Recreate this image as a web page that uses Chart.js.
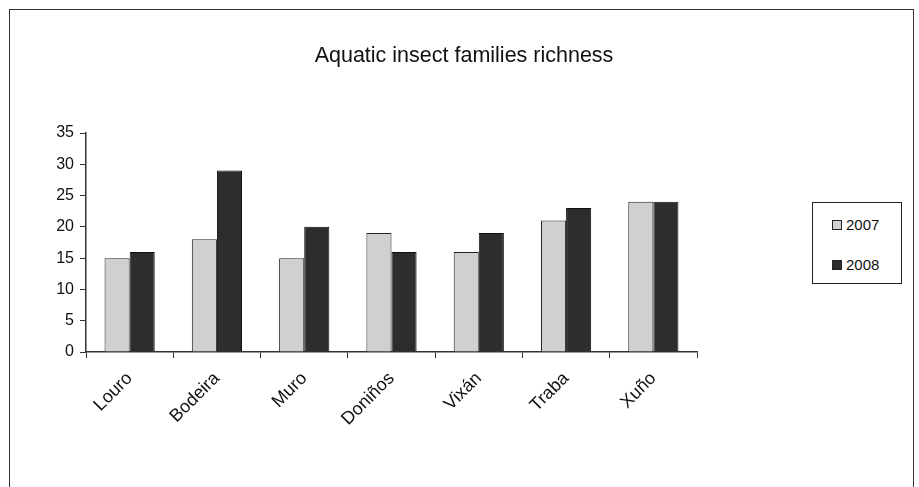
<!DOCTYPE html>
<html>
<head>
<meta charset="utf-8">
<script src="https://cdn.jsdelivr.net/npm/chart.js@4"></script>
<style>
  body { margin: 0; background: #fff; font-family: "Liberation Sans", Arial, sans-serif; }
  #wrap { position: relative; width: 919px; height: 487px; overflow: hidden; }
  #frame { position: absolute; left: 9px; top: 9px; width: 905px; height: 520px;
           border: 1.5px solid #333; border-bottom: none; box-sizing: border-box; }
  #legend { position: absolute; left: 812px; top: 202px; width: 90px; height: 82px;
            border: 1px solid #222; box-sizing: border-box; background: #fff; }
  .item { position: absolute; left: 19px; font-size: 15px; color: #111; display: flex; align-items: center; }
  .sw { width: 8px; height: 8px; border: 1px solid #222; margin-right: 4px; }
</style>
</head>
<body>
<div id="wrap">
  <canvas id="chart" width="919" height="487"></canvas>
  <div id="frame"></div>
  <div id="legend"></div>
</div>
<script>
document.addEventListener("DOMContentLoaded", () => {
  // Sites and richness per year
  const sites = ["Louro", "Bodeira", "Muro", "Doniños", "Vixán", "Traba", "Xuño"];
  const years = ["2007", "2008"];
  const rich2007 = [15, 18, 15, 19, 16, 21, 24];
  const rich2008 = [16, 29, 20, 16, 19, 23, 24];
  const yTicks = [0, 5, 10, 15, 20, 25, 30, 35];
  const titleText = "Aquatic insect families richness";

  const fills = ["#d0d0d0", "#2d2d2d"];
  const font = "'Liberation Sans', Arial, sans-serif";

  // Title centred on the whole frame, not just the plot area
  const frameTitle = {
    id: "frameTitle",
    afterDraw(chart) {
      const c = chart.ctx;
      c.save();
      c.fillStyle = "#111";
      c.font = "21.5px " + font;
      c.textAlign = "center";
      c.textBaseline = "middle";
      c.fillText(titleText, 464, 56);
      c.restore();
    },
  };

  const ctx = document.getElementById("chart").getContext("2d");

  const chart = new Chart(ctx, {
    type: "bar",
    data: {
      labels: sites,
      datasets: [
        { label: years[0], data: rich2007, backgroundColor: fills[0], borderColor: "#222", borderWidth: 1 },
        { label: years[1], data: rich2008, backgroundColor: fills[1], borderColor: "#111", borderWidth: 1 },
      ],
    },
    plugins: [frameTitle],
    options: {
      responsive: false,
      animation: false,
      layout: { padding: { left: 0, right: 222, top: 133, bottom: 0 } },
      datasets: { bar: { categoryPercentage: 0.575, barPercentage: 1.0 } },
      plugins: {
        legend: { display: false },
        tooltip: { enabled: false },
        title: { display: false },
      },
      scales: {
        x: {
          grid: { display: true, drawOnChartArea: false, tickLength: 6, color: "#333", offset: true },
          border: { color: "#333", width: 1.5 },
          ticks: {
            color: "#111",
            font: { family: font, size: 18 },
            maxRotation: 45,
            minRotation: 45,
            padding: 10,
          },
          afterFit: (s) => { s.height = 135; },
        },
        y: {
          min: 0,
          max: 35,
          afterBuildTicks: (s) => { s.ticks = yTicks.map((v) => ({ value: v })); },
          grid: { display: true, drawOnChartArea: false, tickLength: 6, color: "#333" },
          border: { color: "#333", width: 1.5 },
          ticks: { color: "#111", font: { family: font, size: 16 }, padding: 6 },
          afterFit: (s) => { s.width = 86; },
        },
      },
    },
  });

  // Boxed legend built from the chart's datasets
  const legend = document.getElementById("legend");
  chart.data.datasets.forEach((ds, i) => {
    const item = document.createElement("div");
    item.className = "item";
    item.style.top = (i === 0 ? 13 : 53) + "px";
    item.innerHTML = '<span class="sw" style="background:' + ds.backgroundColor + '"></span>' + ds.label;
    legend.appendChild(item);
  });
});
</script>
</body>
</html>
